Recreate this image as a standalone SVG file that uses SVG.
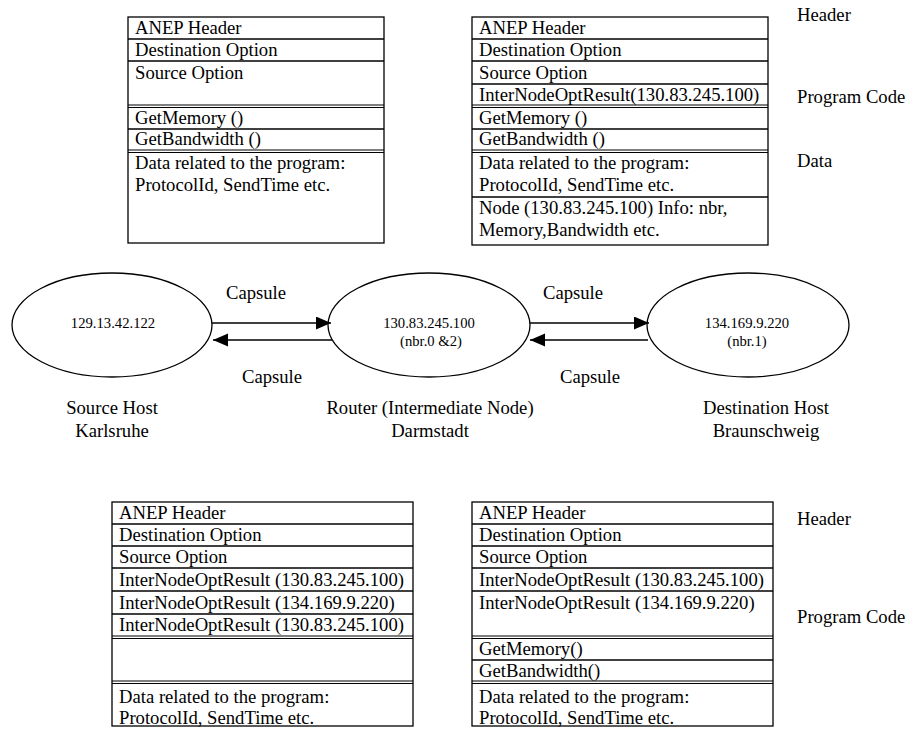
<svg xmlns="http://www.w3.org/2000/svg" width="907" height="729" viewBox="0 0 907 729">
<style>
text{font-family:"Liberation Serif","Times New Roman",serif;font-size:18.67px;fill:#000}
.sm{font-size:14.67px}
.mid{text-anchor:middle}
.b{fill:#fff;stroke:#000;stroke-width:1.3}
.l{stroke:#000;stroke-width:1.3;fill:none}
.d{stroke:#000;stroke-width:1.2;fill:none}
.e{fill:#fff;stroke:#000;stroke-width:1.3}
.c{stroke:#000;stroke-width:1.5;fill:none;marker-end:url(#ah)}
</style>
<defs>
<marker id="ah" markerUnits="userSpaceOnUse" markerWidth="16" markerHeight="14" refX="15" refY="6.5" orient="auto">
<path d="M0,0 L15,6.5 L0,13 z" fill="#000"/>
</marker>
</defs>
<rect width="907" height="729" fill="#fff"/>

<g id="capsule-source">
<rect class="b" x="128" y="17" width="256" height="226"/>
<line class="l" x1="128" y1="39" x2="384" y2="39"/>
<line class="l" x1="128" y1="61" x2="384" y2="61"/>
<line class="d" x1="128" y1="105" x2="384" y2="105"/><line class="d" x1="128" y1="107.5" x2="384" y2="107.5"/>
<line class="l" x1="128" y1="129" x2="384" y2="129"/>
<line class="d" x1="128" y1="150" x2="384" y2="150"/><line class="d" x1="128" y1="152.5" x2="384" y2="152.5"/>
<text x="135" y="34">ANEP Header</text>
<text x="135" y="56">Destination Option</text>
<text x="135" y="79">Source Option</text>
<text x="135" y="124">GetMemory ()</text>
<text x="135" y="145">GetBandwidth ()</text>
<text x="135" y="169">Data related to the program:</text>
<text x="135" y="191">ProtocolId, SendTime etc.</text>
</g>

<g id="capsule-router">
<rect class="b" x="472" y="17" width="296" height="228"/>
<line class="l" x1="472" y1="39" x2="768" y2="39"/>
<line class="l" x1="472" y1="61" x2="768" y2="61"/>
<line class="l" x1="472" y1="84" x2="768" y2="84"/>
<line class="d" x1="472" y1="105" x2="768" y2="105"/><line class="d" x1="472" y1="107.5" x2="768" y2="107.5"/>
<line class="l" x1="472" y1="129" x2="768" y2="129"/>
<line class="d" x1="472" y1="150" x2="768" y2="150"/><line class="d" x1="472" y1="152.5" x2="768" y2="152.5"/>
<line class="l" x1="472" y1="197" x2="768" y2="197"/>
<text x="479" y="34">ANEP Header</text>
<text x="479" y="56">Destination Option</text>
<text x="479" y="79">Source Option</text>
<text x="479" y="101">InterNodeOptResult(130.83.245.100)</text>
<text x="479" y="124">GetMemory ()</text>
<text x="479" y="145">GetBandwidth ()</text>
<text x="479" y="169">Data related to the program:</text>
<text x="479" y="191">ProtocolId, SendTime etc.</text>
<text x="479" y="214">Node (130.83.245.100) Info: nbr,</text>
<text x="479" y="236">Memory,Bandwidth etc.</text>
</g>

<g id="legend-top">
<text x="797" y="21">Header</text>
<text x="797" y="103">Program Code</text>
<text x="797" y="167">Data</text>
</g>

<g id="node-source">
<ellipse class="e" cx="112" cy="325" rx="100" ry="52"/>
<text class="sm mid" x="113" y="328">129.13.42.122</text>
<text class="mid" x="112" y="414">Source Host</text>
<text class="mid" x="112" y="437">Karlsruhe</text>
</g>

<g id="node-router">
<ellipse class="e" cx="429" cy="325" rx="101" ry="52"/>
<text class="sm mid" x="429" y="328">130.83.245.100</text>
<text class="sm mid" x="431" y="346">(nbr.0 &amp;2)</text>
<text class="mid" x="430" y="414">Router (Intermediate Node)</text>
<text class="mid" x="430" y="437">Darmstadt</text>
</g>

<g id="node-dest">
<ellipse class="e" cx="748" cy="325" rx="101" ry="52"/>
<text class="sm mid" x="747" y="328">134.169.9.220</text>
<text class="sm mid" x="747" y="346">(nbr.1)</text>
<text class="mid" x="766" y="414">Destination Host</text>
<text class="mid" x="766" y="437">Braunschweig</text>
</g>

<g id="connectors">
<line class="c" x1="212" y1="323" x2="331" y2="323"/>
<line class="c" x1="332" y1="340" x2="213" y2="340"/>
<line class="c" x1="530" y1="323" x2="649" y2="323"/>
<line class="c" x1="648" y1="340" x2="530" y2="340"/>
<text class="mid" x="256" y="299">Capsule</text>
<text class="mid" x="272" y="383">Capsule</text>
<text class="mid" x="573" y="299">Capsule</text>
<text class="mid" x="590" y="383">Capsule</text>
</g>

<g id="capsule-return-router">
<rect class="b" x="112" y="502" width="301" height="224"/>
<line class="l" x1="112" y1="524" x2="413" y2="524"/>
<line class="l" x1="112" y1="546" x2="413" y2="546"/>
<line class="l" x1="112" y1="568" x2="413" y2="568"/>
<line class="l" x1="112" y1="591" x2="413" y2="591"/>
<line class="l" x1="112" y1="614" x2="413" y2="614"/>
<line class="d" x1="112" y1="636" x2="413" y2="636"/><line class="d" x1="112" y1="638.5" x2="413" y2="638.5"/>
<line class="d" x1="112" y1="681" x2="413" y2="681"/><line class="d" x1="112" y1="683.5" x2="413" y2="683.5"/>
<text x="119" y="519">ANEP Header</text>
<text x="119" y="541">Destination Option</text>
<text x="119" y="563">Source Option</text>
<text x="119" y="586">InterNodeOptResult (130.83.245.100)</text>
<text x="119" y="609">InterNodeOptResult (134.169.9.220)</text>
<text x="119" y="631">InterNodeOptResult (130.83.245.100)</text>
<text x="119" y="703">Data related to the program:</text>
<text x="119" y="724">ProtocolId, SendTime etc.</text>
</g>

<g id="capsule-return-dest">
<rect class="b" x="472" y="502" width="301" height="224"/>
<line class="l" x1="472" y1="524" x2="773" y2="524"/>
<line class="l" x1="472" y1="546" x2="773" y2="546"/>
<line class="l" x1="472" y1="568" x2="773" y2="568"/>
<line class="l" x1="472" y1="591" x2="773" y2="591"/>
<line class="d" x1="472" y1="636" x2="773" y2="636"/><line class="d" x1="472" y1="638.5" x2="773" y2="638.5"/>
<line class="l" x1="472" y1="660" x2="773" y2="660"/>
<line class="d" x1="472" y1="681" x2="773" y2="681"/><line class="d" x1="472" y1="683.5" x2="773" y2="683.5"/>
<text x="479" y="519">ANEP Header</text>
<text x="479" y="541">Destination Option</text>
<text x="479" y="563">Source Option</text>
<text x="479" y="586">InterNodeOptResult (130.83.245.100)</text>
<text x="479" y="609">InterNodeOptResult (134.169.9.220)</text>
<text x="479" y="655">GetMemory()</text>
<text x="479" y="677">GetBandwidth()</text>
<text x="479" y="703">Data related to the program:</text>
<text x="479" y="724">ProtocolId, SendTime etc.</text>
</g>

<g id="legend-bottom">
<text x="797" y="525">Header</text>
<text x="797" y="623">Program Code</text>
</g>
</svg>
